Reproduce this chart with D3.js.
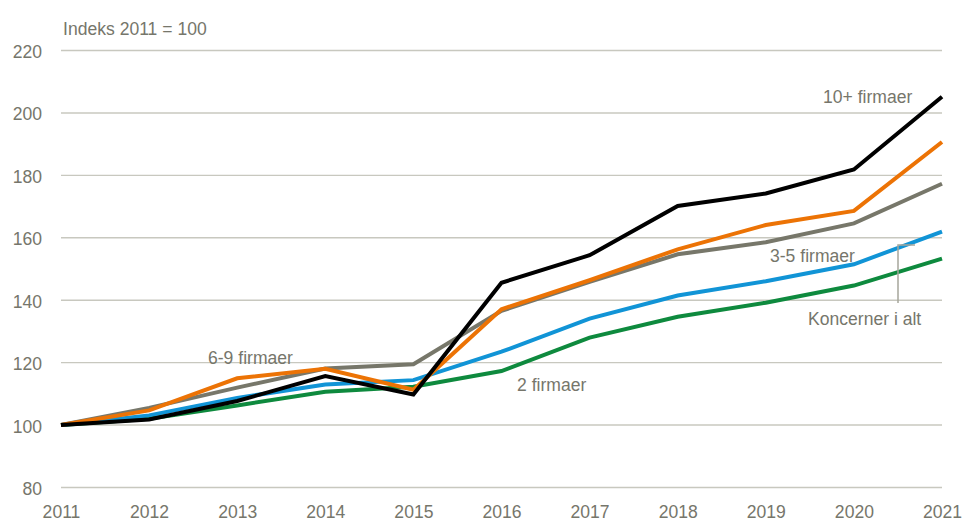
<!DOCTYPE html>
<html>
<head>
<meta charset="utf-8">
<script src="https://cdn.jsdelivr.net/npm/d3@7"></script>
<style>
  body { margin: 0; background: #fff; }
  svg text { font-family: "Liberation Sans", Arial, sans-serif; fill: #76766b; }
</style>
</head>
<body>
<svg width="962" height="521"></svg>
<script>
// data
const years = [2011, 2012, 2013, 2014, 2015, 2016, 2017, 2018, 2019, 2020, 2021]
const yTicks = [80, 100, 120, 140, 160, 180, 200, 220]
const toFirm = [100, 102.0, 106.3, 110.7, 112.3, 117.3, 128.0, 134.7, 139.2, 144.7, 153.3]
const iAlt = [100, 103.1, 108.7, 113.0, 114.4, 123.5, 134.1, 141.5, 146.1, 151.5, 162.0]
const treFem = [100, 105.5, 112.0, 118.1, 119.5, 136.6, 145.9, 154.7, 158.6, 164.6, 177.3]
const seksNi = [100, 104.7, 115.0, 118.0, 111.3, 137.1, 146.4, 156.3, 164.1, 168.6, 190.7]
const tiPlus = [100, 101.8, 107.7, 115.7, 109.8, 145.6, 154.4, 170.2, 174.2, 181.9, 205.2]

const series = [
  { name: "2 firmaer", values: toFirm, color: "#0e8a3e" },
  { name: "Koncerner i alt", values: iAlt, color: "#1194d6" },
  { name: "3-5 firmaer", values: treFem, color: "#77776a" },
  { name: "6-9 firmaer", values: seksNi, color: "#ec7305" },
  { name: "10+ firmaer", values: tiPlus, color: "#000000" }
]

const fs = "18.5px"
const narrow = "scale(0.95,1)"

const svg = d3.select("svg")
const x = d3.scaleLinear().domain([2011, 2021]).range([61, 942])
const y = d3.scaleLinear().domain([80, 220]).range([487.5, 50.5])

// gridlines
svg.append("g")
  .selectAll("line")
  .data(yTicks)
  .join("line")
  .attr("x1", x(2011))
  .attr("x2", x(2021))
  .attr("y1", d => y(d))
  .attr("y2", d => y(d))
  .attr("stroke", "#c8c8bf")
  .attr("stroke-width", 1.4)

// y axis labels
const yAxis = svg.append("g")
  .attr("transform", "translate(42,0)")
  .call(d3.axisLeft(y).tickValues(yTicks).tickSize(0).tickPadding(0))
yAxis.select(".domain").remove()
yAxis.selectAll("text")
  .attr("font-size", fs)
  .attr("fill", "#76766b")
  .attr("dy", "0.38em")
  .attr("transform", narrow)

// x axis labels
const xAxis = svg.append("g")
  .attr("transform", "translate(0,518)")
  .call(d3.axisBottom(x).tickValues(years).tickFormat(d3.format("d")).tickSize(0).tickPadding(0))
xAxis.select(".domain").remove()
xAxis.selectAll("text")
  .attr("font-size", fs)
  .attr("fill", "#76766b")
  .attr("y", 0)
  .attr("dy", 0)
  .attr("transform", narrow)

// lines
const line = d3.line()
  .x((d, i) => x(years[i]))
  .y(d => y(d))

svg.append("g")
  .selectAll("path")
  .data(series)
  .join("path")
  .attr("d", d => line(d.values))
  .attr("fill", "none")
  .attr("stroke", d => d.color)
  .attr("stroke-width", 4)
  .attr("stroke-linejoin", "miter")

// leader line for "Koncerner i alt"
svg.append("path")
  .attr("d", "M915,245 H898 V303")
  .attr("fill", "none")
  .attr("stroke", "#a6a69c")
  .attr("stroke-width", 1.5)

// labels
const labels = [
  { text: "Indeks 2011 = 100", x: 63, y: 35 },
  { text: "10+ firmaer", x: 823, y: 103 },
  { text: "6-9 firmaer", x: 208, y: 363.5 },
  { text: "3-5 firmaer", x: 770, y: 262 },
  { text: "2 firmaer", x: 517, y: 390.5 },
  { text: "Koncerner i alt", x: 808, y: 324.5 }
]
svg.append("g")
  .selectAll("text")
  .data(labels)
  .join("text")
  .attr("transform", d => `translate(${d.x},${d.y}) ${narrow}`)
  .attr("font-size", fs)
  .text(d => d.text)
</script>
</body>
</html>
